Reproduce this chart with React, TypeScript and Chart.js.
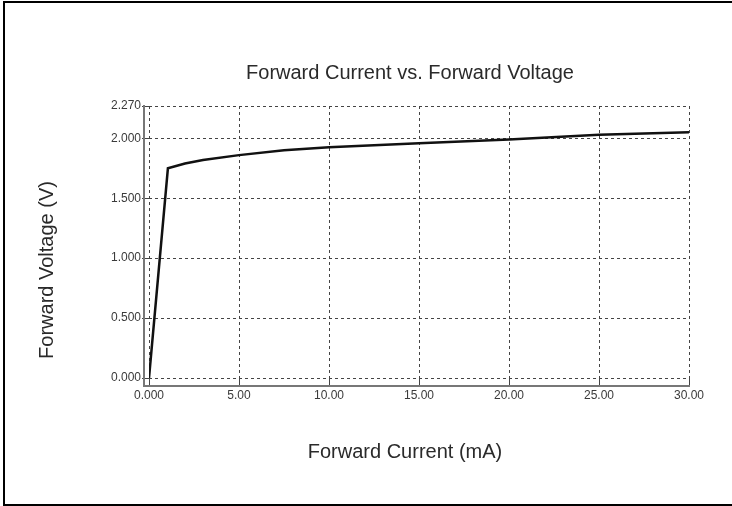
import React, { useEffect, useRef } from "react";
import { Chart, registerables } from "chart.js";

Chart.register(...registerables);

const currentMA = [0, 1.05, 2, 3, 5, 7.5, 10, 15, 20, 25, 30];
const voltageV = [0, 1.75, 1.79, 1.82, 1.86, 1.9, 1.925, 1.96, 1.99, 2.03, 2.05];
const yTickValues = [0, 0.5, 1, 1.5, 2, 2.27];
const yTickLabels = ["0.000", "0.500", "1.000", "1.500", "2.000", "2.270"];
const xTickLabels = ["0.000", "5.00", "10.00", "15.00", "20.00", "25.00", "30.00"];
const chartTitle = "Forward Current vs. Forward Voltage";
const xTitle = "Forward Current (mA)";
const yTitle = "Forward Voltage (V)";

const FONT = "'Liberation Sans', Arial, sans-serif";

const framePlugin = {
  id: "frame",
  beforeDraw(chart: any) {
    const { ctx, width, height } = chart;
    ctx.save();
    ctx.fillStyle = "#ffffff";
    ctx.fillRect(0, 0, width, height);
    ctx.fillStyle = "#000000";
    ctx.fillRect(3, 1, 2, height - 1);
    ctx.fillRect(3, 1, width - 3, 2);
    ctx.fillRect(3, height - 2, width - 3, 2);
    ctx.restore();
  },
};

const axisLinesPlugin = {
  id: "axisLines",
  afterDraw(chart: any) {
    const { ctx, chartArea } = chart;
    ctx.save();
    ctx.strokeStyle = "#777777";
    ctx.lineWidth = 2;
    ctx.setLineDash([]);
    const ax = chartArea.left - 5;
    const ay = chartArea.bottom + 8;
    ctx.beginPath();
    ctx.moveTo(ax, chartArea.top - 1);
    ctx.lineTo(ax, ay);
    ctx.lineTo(chartArea.right + 1, ay);
    ctx.stroke();
    ctx.restore();
  },
};

const titlesPlugin = {
  id: "titles",
  afterDraw(chart: any) {
    const { ctx } = chart;
    ctx.save();
    ctx.fillStyle = "#2a2a2a";
    ctx.font = `20px ${FONT}`;
    ctx.textAlign = "center";
    ctx.textBaseline = "middle";
    ctx.fillText(chartTitle, 410, 73);
    ctx.fillText(xTitle, 405, 452);
    ctx.translate(47, 270);
    ctx.rotate(-Math.PI / 2);
    ctx.fillText(yTitle, 0, 0);
    ctx.restore();
  },
};

const gridOpts = {
  color: "#444444",
  lineWidth: 1,
  tickLength: 7,
  tickColor: "#444444",
  drawTicks: true,
};

export default function App() {
  const canvasRef = useRef<HTMLCanvasElement | null>(null);

  useEffect(() => {
    if (!canvasRef.current) return;
    const chart = new Chart(canvasRef.current, {
      type: "line",
      data: {
        datasets: [
          {
            data: currentMA.map((x, i) => ({ x, y: voltageV[i] })),
            borderColor: "#111111",
            borderWidth: 2.5,
            pointRadius: 0,
            tension: 0,
            fill: false,
          },
        ],
      },
      options: {
        animation: false,
        responsive: false,
        devicePixelRatio: 1,
        layout: { padding: { top: 106, left: 0, right: 43, bottom: 0 } },
        plugins: {
          legend: { display: false },
          tooltip: { enabled: false },
          title: { display: false },
        },
        scales: {
          x: {
            type: "linear",
            min: 0,
            max: 30,
            ticks: {
              stepSize: 5,
              autoSkip: false,
              maxRotation: 0,
              padding: 3,
              color: "#3a3a3a",
              font: { family: FONT, size: 12 },
              callback: (_v: any, i: number) => xTickLabels[i],
            },
            grid: gridOpts,
            border: { display: false, dash: [3, 3] },
            afterFit: (scale: any) => {
              scale.height = 128;
            },
          },
          y: {
            type: "linear",
            min: 0,
            max: 2.27,
            afterBuildTicks: (scale: any) => {
              scale.ticks = yTickValues.map((v) => ({ value: v }));
            },
            ticks: {
              autoSkip: false,
              padding: 1,
              color: "#3a3a3a",
              font: { family: FONT, size: 12 },
              callback: (_v: any, i: number) => yTickLabels[i],
            },
            grid: gridOpts,
            border: { display: false, dash: [3, 3] },
            afterFit: (scale: any) => {
              scale.width = 149;
            },
          },
        },
      },
      plugins: [framePlugin, axisLinesPlugin, titlesPlugin],
    });
    return () => chart.destroy();
  }, []);

  return (
    <div style={{ position: "fixed", left: 0, top: 0, width: 732, height: 506 }}>
      <canvas ref={canvasRef} width={732} height={506} style={{ width: 732, height: 506, display: "block" }} />
    </div>
  );
}
